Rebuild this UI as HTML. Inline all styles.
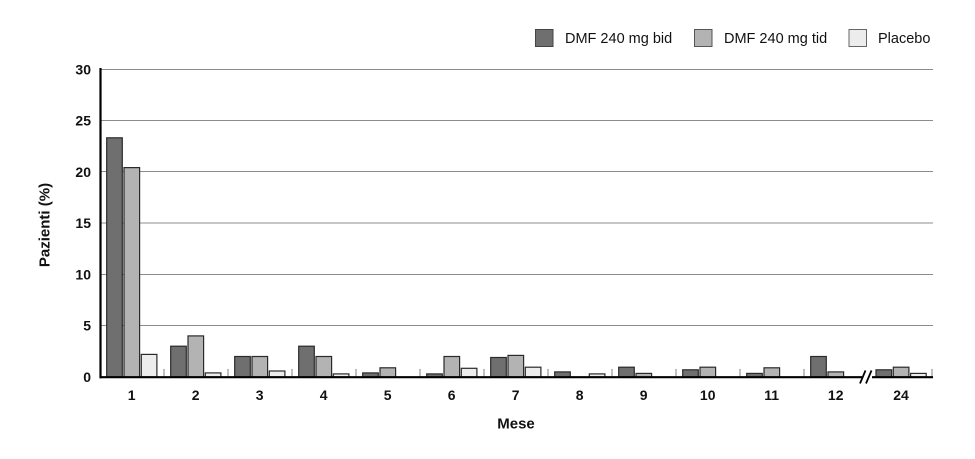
<!DOCTYPE html>
<html>
<head>
<meta charset="utf-8">
<style>
  html,body{margin:0;padding:0;background:#fff;}
  svg{display:block;}
  text{font-family:"Liberation Sans", Arial, sans-serif;}
</style>
</head>
<body>
<svg width="975" height="459" viewBox="0 0 975 459" xmlns="http://www.w3.org/2000/svg">
  <rect x="0" y="0" width="975" height="459" fill="#fff"/>

  <!-- Legend -->
  <rect x="535.5" y="29.5" width="17.5" height="17" fill="#6f6f6f" stroke="#444" stroke-width="1"/>
  <text x="565" y="43" font-size="14.5" fill="#111">DMF 240 mg bid</text>
  <rect x="694.5" y="29.5" width="17.5" height="17" fill="#b3b3b3" stroke="#555" stroke-width="1"/>
  <text x="724" y="43" font-size="14.5" fill="#111">DMF 240 mg tid</text>
  <rect x="849" y="29.5" width="17.5" height="17" fill="#ececec" stroke="#666" stroke-width="1"/>
  <text x="878" y="43" font-size="14.5" fill="#111">Placebo</text>

  <!-- Gridlines -->
  <g stroke="#8c8c8c" stroke-width="1">
    <line x1="101" y1="69.5" x2="933" y2="69.5"/>
    <line x1="101" y1="120.5" x2="933" y2="120.5"/>
    <line x1="101" y1="171.5" x2="933" y2="171.5"/>
    <line x1="101" y1="223" x2="933" y2="223"/>
    <line x1="101" y1="274.5" x2="933" y2="274.5"/>
    <line x1="101" y1="325.5" x2="933" y2="325.5"/>
  </g>

  <!-- Y tick labels -->
  <g font-size="14" font-weight="bold" fill="#111" text-anchor="end">
    <text x="91" y="74.5">30</text>
    <text x="91" y="125.5">25</text>
    <text x="91" y="177">20</text>
    <text x="91" y="228">15</text>
    <text x="91" y="279.5">10</text>
    <text x="91" y="330.5">5</text>
    <text x="91" y="382">0</text>
  </g>

  <!-- Y axis title -->
  <text x="0" y="0" font-size="15" font-weight="bold" fill="#111" text-anchor="middle" transform="translate(49.5,225) rotate(-90)">Pazienti (%)</text>

  <!-- Minor ticks -->
  <g stroke="#aaaaaa" stroke-width="1.5">
    <line x1="164" y1="369" x2="164" y2="377"/>
    <line x1="228" y1="369" x2="228" y2="377"/>
    <line x1="292" y1="369" x2="292" y2="377"/>
    <line x1="356" y1="369" x2="356" y2="377"/>
    <line x1="420" y1="369" x2="420" y2="377"/>
    <line x1="484" y1="369" x2="484" y2="377"/>
    <line x1="548" y1="369" x2="548" y2="377"/>
    <line x1="612" y1="369" x2="612" y2="377"/>
    <line x1="676" y1="369" x2="676" y2="377"/>
    <line x1="740" y1="369" x2="740" y2="377"/>
    <line x1="804" y1="369" x2="804" y2="377"/>
    <line x1="932" y1="369" x2="932" y2="377"/>
  </g>

  <!-- Bars -->
  <g stroke="#2a2a2a" stroke-width="1.2">
    <!-- 1 -->
    <g transform="translate(106.7,0)">
      <rect x="0" y="137.8" width="15.6" height="239.2" fill="#6f6f6f"/>
      <rect x="17.3" y="167.6" width="15.6" height="209.4" fill="#b3b3b3"/>
      <rect x="34.6" y="354.4" width="15.6" height="22.6" fill="#ececec"/>
    </g>
    <!-- 2 -->
    <g transform="translate(170.7,0)">
      <rect x="0" y="346.2" width="15.6" height="30.8" fill="#6f6f6f"/>
      <rect x="17.3" y="335.9" width="15.6" height="41.1" fill="#b3b3b3"/>
      <rect x="34.6" y="372.9" width="15.6" height="4.1" fill="#ececec"/>
    </g>
    <!-- 3 -->
    <g transform="translate(234.7,0)">
      <rect x="0" y="356.5" width="15.6" height="20.5" fill="#6f6f6f"/>
      <rect x="17.3" y="356.5" width="15.6" height="20.5" fill="#b3b3b3"/>
      <rect x="34.6" y="371" width="15.6" height="6" fill="#ececec"/>
    </g>
    <!-- 4 -->
    <g transform="translate(298.7,0)">
      <rect x="0" y="346.2" width="15.6" height="30.8" fill="#6f6f6f"/>
      <rect x="17.3" y="356.5" width="15.6" height="20.5" fill="#b3b3b3"/>
      <rect x="34.6" y="373.9" width="15.6" height="3.1" fill="#ececec"/>
    </g>
    <!-- 5 -->
    <g transform="translate(362.7,0)">
      <rect x="0" y="372.9" width="15.6" height="4.1" fill="#6f6f6f"/>
      <rect x="17.3" y="367.8" width="15.6" height="9.2" fill="#b3b3b3"/>
    </g>
    <!-- 6 -->
    <g transform="translate(426.7,0)">
      <rect x="0" y="373.9" width="15.6" height="3.1" fill="#6f6f6f"/>
      <rect x="17.3" y="356.5" width="15.6" height="20.5" fill="#b3b3b3"/>
      <rect x="34.6" y="368.3" width="15.6" height="8.7" fill="#ececec"/>
    </g>
    <!-- 7 -->
    <g transform="translate(490.7,0)">
      <rect x="0" y="357.5" width="15.6" height="19.5" fill="#6f6f6f"/>
      <rect x="17.3" y="355.4" width="15.6" height="21.6" fill="#b3b3b3"/>
      <rect x="34.6" y="367.2" width="15.6" height="9.8" fill="#ececec"/>
    </g>
    <!-- 8 -->
    <g transform="translate(554.7,0)">
      <rect x="0" y="371.9" width="15.6" height="5.1" fill="#6f6f6f"/>
      <rect x="34.6" y="373.9" width="15.6" height="3.1" fill="#ececec"/>
    </g>
    <!-- 9 -->
    <g transform="translate(618.7,0)">
      <rect x="0" y="367.2" width="15.6" height="9.8" fill="#6f6f6f"/>
      <rect x="17.3" y="373.4" width="15.6" height="3.6" fill="#b3b3b3"/>
    </g>
    <!-- 10 -->
    <g transform="translate(682.7,0)">
      <rect x="0" y="369.8" width="15.6" height="7.2" fill="#6f6f6f"/>
      <rect x="17.3" y="367.2" width="15.6" height="9.8" fill="#b3b3b3"/>
    </g>
    <!-- 11 -->
    <g transform="translate(746.7,0)">
      <rect x="0" y="373.4" width="15.6" height="3.6" fill="#6f6f6f"/>
      <rect x="17.3" y="367.8" width="15.6" height="9.2" fill="#b3b3b3"/>
    </g>
    <!-- 12 -->
    <g transform="translate(810.7,0)">
      <rect x="0" y="356.5" width="15.6" height="20.5" fill="#6f6f6f"/>
      <rect x="17.3" y="371.9" width="15.6" height="5.1" fill="#b3b3b3"/>
    </g>
    <!-- 24 -->
    <g transform="translate(876,0)">
      <rect x="0" y="369.8" width="15.6" height="7.2" fill="#6f6f6f"/>
      <rect x="17.3" y="367.2" width="15.6" height="9.8" fill="#b3b3b3"/>
      <rect x="34.6" y="373.4" width="15.6" height="3.6" fill="#ececec"/>
    </g>
  </g>

  <!-- Axes -->
  <line x1="100.5" y1="68" x2="100.5" y2="378.2" stroke="#000" stroke-width="2.2"/>
  <line x1="99.5" y1="377.2" x2="862" y2="377.2" stroke="#000" stroke-width="2.2"/>
  <line x1="872" y1="377.2" x2="933" y2="377.2" stroke="#000" stroke-width="2.2"/>
  <!-- Break marks -->
  <line x1="860" y1="383.5" x2="865.5" y2="370.5" stroke="#000" stroke-width="1.8"/>
  <line x1="866" y1="383.5" x2="871.5" y2="370.5" stroke="#000" stroke-width="1.8"/>

  <!-- X tick labels -->
  <g font-size="14" font-weight="bold" fill="#111" text-anchor="middle">
    <text x="131.7" y="400">1</text>
    <text x="195.7" y="400">2</text>
    <text x="259.7" y="400">3</text>
    <text x="323.7" y="400">4</text>
    <text x="387.7" y="400">5</text>
    <text x="451.7" y="400">6</text>
    <text x="515.7" y="400">7</text>
    <text x="579.7" y="400">8</text>
    <text x="643.7" y="400">9</text>
    <text x="707.7" y="400">10</text>
    <text x="771.7" y="400">11</text>
    <text x="835.7" y="400">12</text>
    <text x="901" y="400">24</text>
  </g>

  <!-- X axis title -->
  <text x="516" y="428.5" font-size="15" font-weight="bold" fill="#111" text-anchor="middle">Mese</text>
</svg>
</body>
</html>
